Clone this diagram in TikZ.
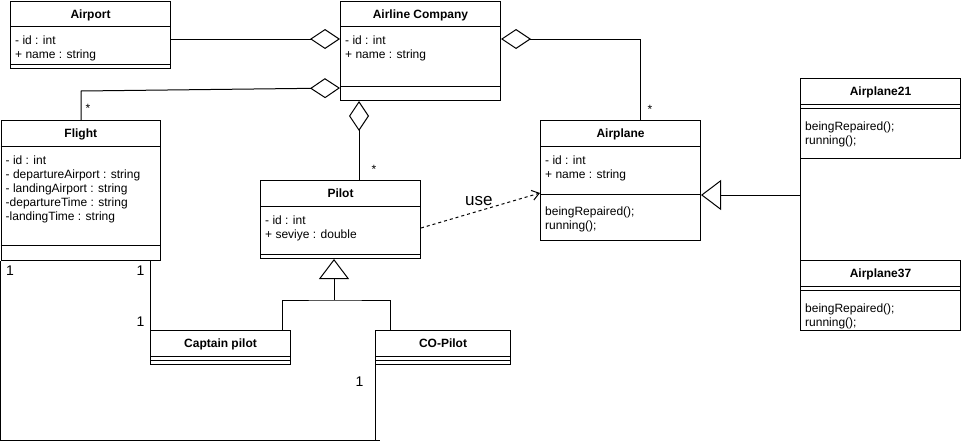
\documentclass[tikz,border=0pt]{standalone}
\usepackage{fontspec}
\setmainfont{Liberation Sans}
\usetikzlibrary{arrows.meta,calc}
\newcommand\UClass[8]{%
  \node[cls, minimum width=#4pt, minimum height=#5pt] (#1) at (#2,#3) {};
  \node[ttl] (#1-t) at ([yshift=-17.5pt]#1.north) {#6};
  \draw[conn] ([yshift=-#7pt]#1.north west) -- ([yshift=-#7pt]#1.north east);
  \draw[conn] ([yshift=-#8pt]#1.north west) -- ([yshift=-#8pt]#1.north east);
}
\newcommand\ULines[4]{%
  \foreach \txt [count=\i] in {#4} {\node[attr] (#1-#2\i) at ([xshift=5pt,yshift={-#3pt-(\i-1)*14pt}]#1.north west) {\txt};}
}
\begin{document}
\begin{tikzpicture}[x=1pt,y=-1pt,
  cls/.style={draw, line width=1pt, anchor=north west, inner sep=0pt, rectangle},
  ttl/.style={font=\bfseries\fontsize{12}{14}\selectfont, anchor=base, inner sep=0pt},
  attr/.style={font=\fontsize{12}{14}\selectfont, anchor=base west, inner sep=0pt},
  mult/.style={font=\fontsize{12}{14}\selectfont, anchor=base, inner sep=0pt},
  one/.style={font=\fontsize{14}{16}\selectfont, anchor=base, inner sep=0pt},
  uselabel/.style={font=\fontsize{17}{19}\selectfont, anchor=base west, inner sep=0pt},
  conn/.style={line width=1pt},
  aggr/.style={conn, -{Diamond[open,length=30pt,width=20pt]}},
  gen/.style={conn, -{Triangle[open,length=20pt,width=30pt]}},
  dep/.style={conn, dash pattern=on 3pt off 3pt, -{Straight Barb[length=7pt,width=10pt]}},
]
\useasboundingbox (0,0) rectangle (961,442);

% classes
\UClass{airport}{10}{0.5}{160}{67.5}{Airport}{25.5}{63.5}
\ULines{airport}{a}{43.5}{{- id : int},{+ name : string}}

\UClass{airline}{340}{0.5}{160}{99.5}{Airline Company}{25.5}{85.5}
\ULines{airline}{a}{43.5}{{- id : int},{+ name : string}}

\UClass{flight}{0.5}{120}{159.5}{140}{Flight}{26}{125}
\ULines{flight}{a}{44}{{- id : int},{- departureAirport : string},{- landingAirport : string},{-departureTime : string},{-landingTime : string}}

\UClass{pilot}{260}{180}{160}{78}{Pilot}{26}{74}
\ULines{pilot}{a}{44}{{- id : int},{+ seviye : double}}

\UClass{airplane}{540}{120}{160}{120}{Airplane}{26}{74}
\ULines{airplane}{a}{44}{{- id : int},{+ name : string}}
\ULines{airplane}{m}{95}{{beingRepaired();},{running();}}

\UClass{a21}{800}{78}{160}{80}{Airplane21}{26}{30}
\ULines{a21}{m}{52}{{beingRepaired();},{running();}}

\UClass{a37}{800}{260}{160}{70}{Airplane37}{26}{30}
\ULines{a37}{m}{52}{{beingRepaired();},{running();}}

\UClass{captain}{150}{330}{140}{34}{Captain pilot}{26.7}{30}
\UClass{copilot}{375}{330}{135}{34}{CO-Pilot}{26.7}{30}

% aggregations
\draw[aggr] ([yshift=-38.5pt]airport.north east) -- ([yshift=-38.5pt]airline.north west);
\draw[aggr] ([xshift=80.5pt]flight.north west) -- ++(0,-29) -- ([yshift=-87.5pt]airline.north west);
\draw[aggr] ([xshift=99pt]pilot.north west) -- ([xshift=19pt]airline.south west);
\draw[aggr] ([xshift=100pt]airplane.north west) |- ([yshift=-38.5pt]airline.north east);

% dependency
\draw[dep] ([yshift=-48pt]pilot.north east) -- ([yshift=-73pt]airplane.north west);
\node[uselabel] (uselbl) at (465,205) {use};

% airplane generalization
\coordinate (gj) at (800,195);
\draw[conn] (a21.south west) -- (a37.north west);
\draw[gen] (gj) -- (airplane.east |- gj);

% pilot generalization
\coordinate (pj) at (334,300);
\coordinate (cpt) at ([xshift=-9pt]captain.north east);
\coordinate (cop) at ([xshift=15pt]copilot.north west);
\draw[conn] (cpt) |- (pj) -| (cop);
\draw[gen] (pj) -- (pj |- pilot.south);

% flight associations
\draw[conn] ([xshift=149.5pt]flight.south west) -- (captain.north west);
\coordinate (bl) at (0.5,440);
\coordinate (br) at (380,440);
\draw[conn] (flight.south west) -- (bl) -- (br);
\draw[conn] (copilot.south west) -- (copilot.south west |- br);

% multiplicities
\node[mult] (m1) at (88,112) {*};
\node[mult] (m2) at (374,173) {*};
\node[mult] (m3) at (650,113) {*};
\node[one] (o1) at (10,275) {1};
\node[one] (o2) at (140.5,275) {1};
\node[one] (o3) at (140.5,326) {1};
\node[one] (o4) at (359.5,386) {1};
\end{tikzpicture}
\end{document}
